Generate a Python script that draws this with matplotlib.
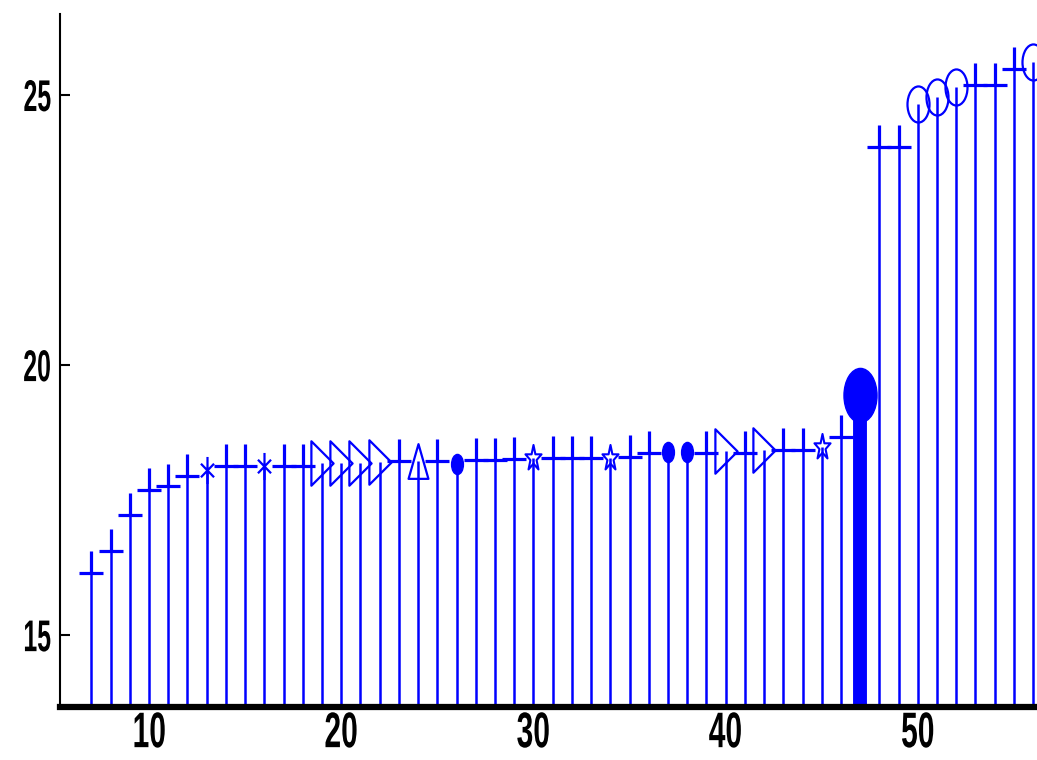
import matplotlib
matplotlib.use("Agg")
import matplotlib.pyplot as plt
import numpy as np
from matplotlib.path import Path
from matplotlib.markers import MarkerStyle
from matplotlib.transforms import Affine2D
from matplotlib.patheffects import AbstractPathEffect

# ---------------- data ----------------
x_values = list(range(7, 57))
y_values = [16.15, 16.55, 17.22, 17.69, 17.76, 17.95, 18.06, 18.13, 18.13, 18.13,
            18.13, 18.13, 18.18, 18.18, 18.19, 18.20, 18.22, 18.22, 18.22, 18.17,
            18.25, 18.25, 18.27, 18.28, 18.28, 18.28, 18.28, 18.28, 18.29, 18.38,
            18.39, 18.39, 18.38, 18.41, 18.38, 18.43, 18.43, 18.43, 18.48, 18.67,
            19.44, 24.03, 24.03, 24.83, 24.97, 25.15, 25.19, 25.19, 25.48, 25.62]
xtick_values = [10, 20, 30, 40, 50]
ytick_values = [15, 20, 25]

# marker kind for points that do not use the default '+'
asterisk_points = [13, 16]
tri_right_points = [19, 20, 21, 22, 40, 42]
tri_up_points = [24]
dot_points = [26, 37, 38]
star_points = [30, 34, 45]
big_points = [47]
ring_points = [50, 51, 52, 56]

BLUE = "#0000ff"


def stretched(m, sy):
    if isinstance(m, Path):
        p = m
    else:
        ms = MarkerStyle(m)
        p = ms.get_path().transformed(ms.get_transform())
    v = p.vertices.copy().astype(float)
    v[:, 1] *= sy
    return Path(v, p.codes)


ast_path = Path([(0, -1), (0, 1), (-0.87, -0.5), (0.87, 0.5), (-0.87, 0.5), (0.87, -0.5)],
                [Path.MOVETO, Path.LINETO, Path.MOVETO, Path.LINETO, Path.MOVETO, Path.LINETO])
# plus whose lower arm is left to the stem
plus_path = Path([(-1, 0), (1, 0), (0, 0), (0, 1.83)],
                 [Path.MOVETO, Path.LINETO, Path.MOVETO, Path.LINETO])


class Condense(AbstractPathEffect):
    def __init__(self, sx, anchor="center"):
        super().__init__()
        self.sx = sx
        self.anchor = anchor

    def draw_path(self, renderer, gc, tpath, affine, rgbFace=None):
        ext = tpath.get_extents()
        cx = ext.x1 if self.anchor == "right" else 0.5 * (ext.x0 + ext.x1)
        t = Affine2D().translate(-cx, 0).scale(self.sx, 1).translate(cx, 0) + affine
        renderer.draw_path(gc, tpath, t, rgbFace)


fig = plt.figure(figsize=(10.37, 7.60), dpi=100)
ax = fig.add_axes([60 / 1037, 1 - 707 / 760, 1 - 60 / 1037, (707 - 14) / 760])
ax.set_xlim(5.37, 56.2)
ax.set_ylim(13.67, 26.5)

xs = np.array(x_values)
ys = np.array(y_values)
ybot = 13.67

special = set(asterisk_points + tri_right_points + tri_up_points + dot_points +
              star_points + big_points + ring_points)

# stems
thin = [i for i, xv in enumerate(x_values) if xv not in big_points]
ax.vlines(xs[thin], ybot, ys[thin], colors=BLUE, lw=1.8, zorder=2)
big = [i for i, xv in enumerate(x_values) if xv in big_points]
ax.vlines(xs[big], ybot, ys[big], colors=BLUE, lw=10, zorder=2)


def draw_group(points, path, ms, mew, filled):
    idx = [i for i, xv in enumerate(x_values) if xv in points]
    if not idx:
        return
    ax.plot(xs[idx], ys[idx], linestyle="none", marker=path, ms=ms, mew=mew,
            mec=BLUE, mfc=BLUE if filled else "none", zorder=3)


plus_pts = [xv for xv in x_values if xv not in special]
draw_group(plus_pts, plus_path, 31.7, 2.3, False)
draw_group(asterisk_points, stretched(ast_path, 1.8), 19.5, 1.6, False)
draw_group(tri_right_points, stretched(">", 2.0), 32, 1.6, False)
draw_group(tri_up_points, stretched("^", 1.75), 25, 1.6, False)
draw_group(dot_points, stretched("o", 1.7), 14.5, 1.0, True)
draw_group(star_points, stretched("*", 1.6), 19.5, 1.5, False)
draw_group(big_points, stretched("o", 1.64), 39, 1.0, True)
draw_group(ring_points, stretched("o", 1.64), 26, 1.6, False)

# axes styling
for s in ["top", "right"]:
    ax.spines[s].set_visible(False)
ax.spines["left"].set_linewidth(1.5)
ax.spines["bottom"].set_linewidth(4.5)
ax.spines["left"].set_zorder(4)
ax.spines["bottom"].set_zorder(4)

ax.set_xticks(xtick_values)
ax.set_yticks(ytick_values)
ax.set_xticklabels([str(v) for v in xtick_values])
ax.set_yticklabels([str(v) for v in ytick_values])
ax.tick_params(axis="y", direction="in", length=7, width=1.5, pad=6)
ax.tick_params(axis="x", length=0, pad=3)

for lab in ax.get_yticklabels():
    lab.set_fontfamily("Liberation Sans")
    lab.set_fontweight("bold")
    lab.set_fontsize(32)
    lab.set_path_effects([Condense(0.56, "right")])
for lab in ax.get_xticklabels():
    lab.set_fontfamily("Liberation Sans")
    lab.set_fontweight("bold")
    lab.set_fontsize(36)
    lab.set_path_effects([Condense(0.6, "center")])

fig.savefig("out.png", dpi=100)
